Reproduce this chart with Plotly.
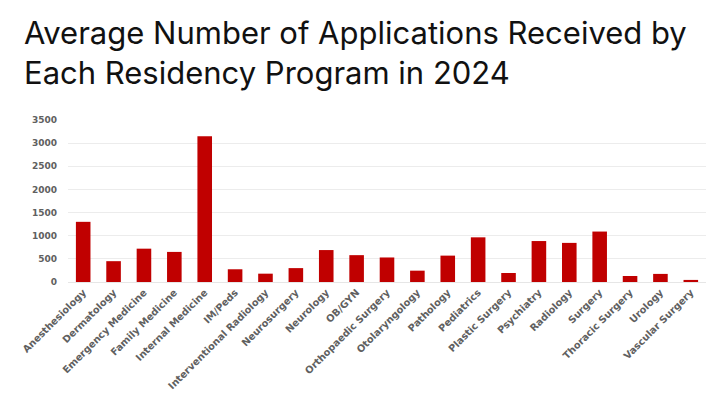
import plotly.graph_objects as go

categories = ["Anesthesiology", "Dermatology", "Emergency Medicine", "Family Medicine",
              "Internal Medicine", "IM/Peds", "Interventional Radiology", "Neurosurgery",
              "Neurology", "OB/GYN", "Orthopaedic Surgery", "Otolaryngology", "Pathology",
              "Pediatrics", "Plastic Surgery", "Psychiatry", "Radiology", "Surgery",
              "Thoracic Surgery", "Urology", "Vascular Surgery"]
values = [1300, 450, 720, 650, 3150, 275, 180, 300, 690, 580, 530, 245, 570,
          965, 195, 885, 845, 1090, 130, 175, 45]
y_ticks = [0, 500, 1000, 1500, 2000, 2500, 3000, 3500]
title_text = "Average Number of Applications Received by<br>Each Residency Program in 2024"

L, R, T, B = 68, 14, 120, 116
W, H = 720, 398
pw, ph = W - L - R, H - T - B

fig = go.Figure(go.Bar(x=categories, y=values, marker=dict(color="#C00000", line=dict(width=0))))

x_font = dict(family="DejaVu Sans, sans-serif", size=9.8, color="#606060", weight="bold")
y_font = dict(family="DejaVu Sans, sans-serif", size=9, color="#606060", weight="bold")

fig.update_layout(
    width=W, height=H,
    margin=dict(l=L, r=R, t=T, b=B),
    paper_bgcolor="white", plot_bgcolor="white",
    bargap=0.52,
    showlegend=False,
    xaxis=dict(tickangle=-45, tickfont=x_font, automargin=False,
               showgrid=False, showline=True, linecolor="#e6e6e6", ticks=""),
    yaxis=dict(range=[0, 3500], tickvals=y_ticks, tickfont=y_font, automargin=False,
               showgrid=True, gridcolor="#ececec", gridwidth=1, zeroline=False, ticks="",
               ticklabelstandoff=10),
    annotations=[dict(text=title_text, xref="paper", yref="paper",
                      x=(22 - L) / pw, y=1 + (T - 12) / ph, xanchor="left", yanchor="top",
                      align="left", showarrow=False,
                      font=dict(family="Inter, Noto Sans, sans-serif", size=31, color="#111111"))],
)

fig.write_html("out.html")
